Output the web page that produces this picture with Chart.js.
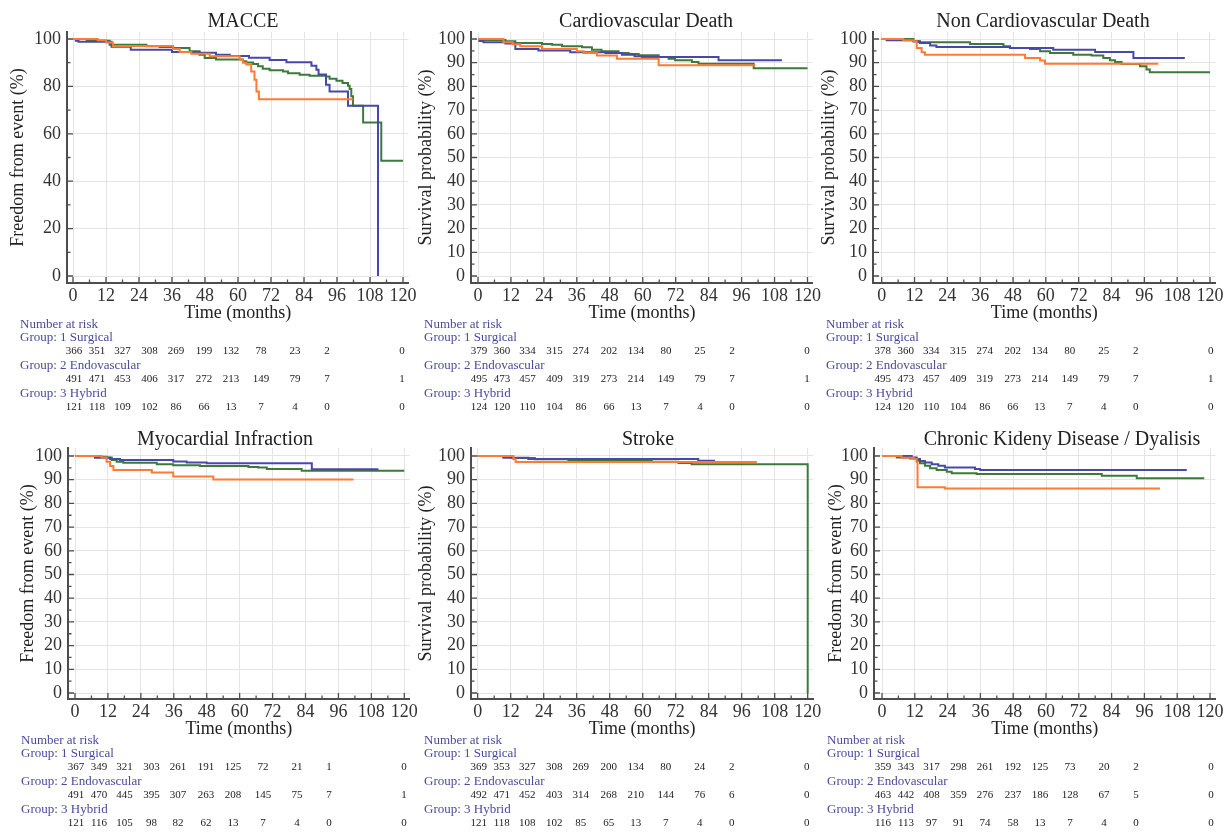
<!DOCTYPE html>
<html>
<head>
<meta charset="utf-8">
<title>Kaplan-Meier curves</title>
<script src="https://cdn.jsdelivr.net/npm/chart.js@4.4.1/dist/chart.umd.min.js"></script>
<style>
  body { margin: 0; width: 1230px; height: 832px; overflow: hidden; position: relative; background: #fff;
         font-family: "Liberation Serif", "DejaVu Serif", serif; }
  canvas { position: absolute; }
  .ttl { position: absolute; font-size: 20px; color: #222; white-space: nowrap; transform: translate(-50%, -50%); }
</style>
</head>
<body>
<script>
// ---- data ----
const xTickVals = [0, 12, 24, 36, 48, 60, 72, 84, 96, 108, 120];
const yTicksMacce = [0, 20, 40, 60, 80, 100];
const yTicksTen = [0, 10, 20, 30, 40, 50, 60, 70, 80, 90, 100];

const groupNames = ["Group: 1 Surgical", "Group: 2 Endovascular", "Group: 3 Hybrid"];
const panelTitles = ["MACCE", "Cardiovascular Death", "Non Cardiovascular Death",
                     "Myocardial Infraction", "Stroke", "Chronic Kideny Disease / Dyalisis"];
const yTitles = ["Freedom from event (%)", "Survival probability (%)", "Survival probability (%)",
                 "Freedom from event (%)", "Survival probability (%)", "Freedom from event (%)"];

// MACCE
const macceSurgT = [0, 1, 2, 14, 21, 36, 46, 52, 57, 64, 71.5, 77.6, 86.7, 88.5, 89.3, 92, 93.3, 100, 110.9];
const macceSurgS = [100, 99.3, 98.8, 96.7, 95.5, 94.5, 94.2, 93.4, 92.8, 92.1, 91.1, 90.2, 88.7, 87, 85, 80.7, 77.9, 71.8, 0];
const macceEndoT = [0, 5, 13.3, 26.7, 31.5, 36.4, 42.4, 46, 47.9, 52, 61.8, 63, 65.5, 67.3, 69, 71.5, 76.4, 78.2, 82.4, 86, 92, 93.3, 95.8, 98, 100, 100.6, 101.2, 101.8, 105.5, 112.1, 120];
const macceEndoS = [100, 99.3, 97.6, 96.9, 96.6, 96.2, 94.8, 93.4, 92, 91.3, 90.6, 90.1, 89.4, 88.5, 87.5, 86.8, 86.3, 85.6, 84.9, 84.5, 84.2, 83.2, 82.4, 81.4, 80.3, 78.9, 75.8, 71.8, 64.8, 48.6, 48.6];
const macceHybT = [0, 9, 12, 14.5, 36.4, 38.8, 43, 49.7, 60.6, 61.8, 63, 64.8, 66, 66.7, 67.6, 101.8];
const macceHybS = [100, 99.5, 98.5, 97, 95.8, 94.5, 93.8, 92.7, 91.3, 90, 89.2, 86.3, 82.8, 77.9, 74.6, 74.6];

// Cardiovascular death
const cvSurgT = [0, 0.5, 2, 10, 13.6, 22, 33.6, 46.4, 52.4, 57, 59.7, 87.6, 110.7];
const cvSurgS = [100, 99.2, 98.6, 98.1, 95.8, 95.2, 94.4, 94.1, 93.4, 92.7, 92.4, 91, 91];
const cvEndoT = [0, 2, 10, 13.6, 23.3, 27, 30.6, 37.9, 41.5, 45, 51.2, 54.9, 58.5, 65.8, 69.4, 71.8, 77.9, 80.3, 100.4, 120];
const cvEndoS = [100, 99.6, 99, 98.3, 97.9, 97.6, 96.9, 96.5, 95.5, 94.8, 94.1, 93.7, 93.1, 92.4, 91.7, 91, 90.3, 89.6, 87.7, 87.7];
const cvHybT = [0, 9.3, 12.5, 15.4, 23.3, 36, 38.5, 43.3, 50.6, 65.8, 101];
const cvHybS = [100, 98.6, 97.8, 96.9, 95.8, 94.8, 94.1, 93, 91.7, 88.9, 88.9];

// Non cardiovascular death
const ncvSurgT = [0, 1.8, 11.6, 14, 17.7, 20, 46.9, 62.7, 78, 92, 110.8];
const ncvSurgS = [100, 99.5, 99, 98.3, 97.3, 96.6, 96.2, 95.5, 94.5, 92, 92];
const ncvEndoT = [0, 11.6, 13.4, 32.3, 44.5, 46.9, 54.2, 57.9, 61.5, 70, 76.7, 81, 83.4, 85.3, 87.7, 94.4, 96.8, 98, 120];
const ncvEndoS = [100, 99, 98.6, 97.9, 96.9, 96.2, 95.8, 94.8, 94.1, 93.4, 93, 92, 91, 90.3, 89.5, 88.5, 87.1, 86, 86];
const ncvHybT = [0, 7.9, 11.6, 12.8, 14.6, 15.8, 52.4, 57.9, 59.7, 101.1];
const ncvHybS = [100, 99.5, 99, 96.2, 94.4, 93.4, 92, 90.9, 89.6, 89.6];

// Myocardial infarction
const miSurgT = [0, 7.3, 12.8, 16.4, 35.8, 40.7, 48, 86.3, 110.6];
const miSurgS = [100, 99.3, 98.7, 98.3, 97.7, 97.3, 96.9, 94.4, 94.4];
const miEndoT = [0, 9, 11.5, 13.4, 15.2, 17.6, 29.8, 35.8, 45.6, 63.2, 66.8, 69.9, 82.6, 120];
const miEndoS = [100, 99.7, 99.4, 98.3, 97.6, 97.2, 96.5, 96.1, 95.8, 95.4, 95.1, 94.5, 93.8, 93.8];
const miHybT = [0, 9.7, 11.5, 12.8, 14, 28, 35.8, 50.4, 101.5];
const miHybS = [100, 99.4, 97.6, 95.8, 94.1, 93, 91.3, 90.1, 90.1];

// Stroke
const strokeSurgT = [0, 9.3, 18.4, 80.2, 86.3];
const strokeSurgS = [100, 99.3, 98.7, 98, 98];
const strokeEndoT = [0, 12.4, 20.8, 33, 63.3, 73, 77.8, 120];
const strokeEndoS = [100, 99.2, 98.6, 98, 97.6, 97, 96.5, 0];
const strokeHybT = [0, 13, 13.8, 101.5];
const strokeHybS = [100, 98.6, 97.5, 97.5];

// Chronic kidney disease / dialysis
const ckdSurgT = [0, 10.9, 12.7, 13.9, 15.7, 18.2, 20.6, 23, 34, 35.9, 111.5];
const ckdSurgS = [100, 99.4, 98.7, 97.9, 97.3, 96.5, 95.9, 95.2, 94.5, 94.1, 94.1];
const ckdEndoT = [0, 5.4, 10.2, 12.7, 13.9, 15.7, 17.6, 20, 23.7, 25.5, 34.6, 80.4, 93.2, 117.9];
const ckdEndoS = [100, 99.4, 98.9, 98, 96.9, 95.9, 94.8, 94.1, 93.4, 92.7, 92.4, 91.7, 90.6, 90.6];
const ckdHybT = [0, 7.2, 11.5, 12.7, 13, 23, 101.7];
const ckdHybS = [100, 99.3, 98.7, 97.5, 86.8, 86.3, 86.3];

// Number at risk (at 0, 12, ..., 120 months)
const macceRiskSurg = [366, 351, 327, 308, 269, 199, 132, 78, 23, 2, 0];
const macceRiskEndo = [491, 471, 453, 406, 317, 272, 213, 149, 79, 7, 1];
const macceRiskHyb = [121, 118, 109, 102, 86, 66, 13, 7, 4, 0, 0];
const cvRiskSurg = [379, 360, 334, 315, 274, 202, 134, 80, 25, 2, 0];
const cvRiskEndo = [495, 473, 457, 409, 319, 273, 214, 149, 79, 7, 1];
const cvRiskHyb = [124, 120, 110, 104, 86, 66, 13, 7, 4, 0, 0];
const ncvRiskSurg = [378, 360, 334, 315, 274, 202, 134, 80, 25, 2, 0];
const ncvRiskEndo = [495, 473, 457, 409, 319, 273, 214, 149, 79, 7, 1];
const ncvRiskHyb = [124, 120, 110, 104, 86, 66, 13, 7, 4, 0, 0];
const miRiskSurg = [367, 349, 321, 303, 261, 191, 125, 72, 21, 1, 0];
const miRiskEndo = [491, 470, 445, 395, 307, 263, 208, 145, 75, 7, 1];
const miRiskHyb = [121, 116, 105, 98, 82, 62, 13, 7, 4, 0, 0];
const strokeRiskSurg = [369, 353, 327, 308, 269, 200, 134, 80, 24, 2, 0];
const strokeRiskEndo = [492, 471, 452, 403, 314, 268, 210, 144, 76, 6, 0];
const strokeRiskHyb = [121, 118, 108, 102, 85, 65, 13, 7, 4, 0, 0];
const ckdRiskSurg = [359, 343, 317, 298, 261, 192, 125, 73, 20, 2, 0];
const ckdRiskEndo = [463, 442, 408, 359, 276, 237, 186, 128, 67, 5, 0];
const ckdRiskHyb = [116, 113, 97, 91, 74, 58, 13, 7, 4, 0, 0];

// ---- styles / layout ----
const lineColors = ["#4848a8", "#3b7a3b", "#ff7b35"];
const labelBlue = "#4a4a9c";
const gridColor = "#e4e4e4";
const axisColor = "#4d4d4d";
const riskCols = [1, 24, 49.5, 76.5, 103, 131, 158, 188, 222, 254, 329]; // px from x=0 tick

const rows = [
  { top: 0, height: 418, caTop: 32, caBot: 283, y0: 276, y100: 39, titleY: 20 },
  { top: 418, height: 414, caTop: 448, caBot: 699, y0: 693, y100: 456, titleY: 438 }
];
const geo = [
  { row: 0, spine: 67, x0: 73, x120: 403, yw: 60, titleX: 243 },
  { row: 0, spine: 471, x0: 478, x120: 807.5, yw: 56, titleX: 646 },
  { row: 0, spine: 873, x0: 881.7, x120: 1210, yw: 55, titleX: 1043 },
  { row: 1, spine: 68, x0: 75, x120: 404.3, yw: 51, titleX: 225 },
  { row: 1, spine: 471, x0: 477.7, x120: 807.7, yw: 56, titleX: 648 },
  { row: 1, spine: 874, x0: 882, x120: 1210, yw: 49, titleX: 1062 }
];

const curves = [
  [[macceSurgT, macceSurgS], [macceEndoT, macceEndoS], [macceHybT, macceHybS]],
  [[cvSurgT, cvSurgS], [cvEndoT, cvEndoS], [cvHybT, cvHybS]],
  [[ncvSurgT, ncvSurgS], [ncvEndoT, ncvEndoS], [ncvHybT, ncvHybS]],
  [[miSurgT, miSurgS], [miEndoT, miEndoS], [miHybT, miHybS]],
  [[strokeSurgT, strokeSurgS], [strokeEndoT, strokeEndoS], [strokeHybT, strokeHybS]],
  [[ckdSurgT, ckdSurgS], [ckdEndoT, ckdEndoS], [ckdHybT, ckdHybS]]
];
const risks = [
  [macceRiskSurg, macceRiskEndo, macceRiskHyb],
  [cvRiskSurg, cvRiskEndo, cvRiskHyb],
  [ncvRiskSurg, ncvRiskEndo, ncvRiskHyb],
  [miRiskSurg, miRiskEndo, miRiskHyb],
  [strokeRiskSurg, strokeRiskEndo, strokeRiskHyb],
  [ckdRiskSurg, ckdRiskEndo, ckdRiskHyb]
];

Chart.defaults.font.family = '"Liberation Serif", "DejaVu Serif", serif';

// small tick marks drawn inside the axes
const innerTicks = {
  id: "innerTicks",
  afterDatasetsDraw(chart) {
    const ctx = chart.ctx, xs = chart.scales.x, ys = chart.scales.y, ca = chart.chartArea;
    ctx.save();
    ctx.strokeStyle = axisColor;
    ctx.lineWidth = 1.3;
    ctx.beginPath();
    for (let v = 0; v <= 120; v += 6) {
      const px = xs.getPixelForValue(v);
      const len = v % 12 === 0 ? 6 : 3.5;
      ctx.moveTo(px, ca.bottom);
      ctx.lineTo(px, ca.bottom - len);
    }
    const yt = ys.ticks.map(t => t.value);
    const step = yt[1] - yt[0];
    yt.forEach((v, i) => {
      let py = ys.getPixelForValue(v);
      ctx.moveTo(ca.left, py);
      ctx.lineTo(ca.left + 6, py);
      if (i < yt.length - 1) {
        py = ys.getPixelForValue(v + step / 2);
        ctx.moveTo(ca.left, py);
        ctx.lineTo(ca.left + 3.5, py);
      }
    });
    ctx.stroke();
    ctx.restore();
  }
};

function riskTable(riskRows) {
  return {
    id: "riskTable",
    afterDraw(chart) {
      const ctx = chart.ctx, ca = chart.chartArea;
      const x0 = chart.scales.x.getPixelForValue(0);
      const lx = ca.left - 47;
      ctx.save();
      ctx.textBaseline = "middle";
      ctx.font = '13px "Liberation Serif"';
      ctx.fillStyle = labelBlue;
      ctx.textAlign = "left";
      ctx.fillText("Number at risk", lx, ca.bottom + 42);
      groupNames.forEach((g, k) => {
        ctx.font = '13px "Liberation Serif"';
        ctx.fillStyle = labelBlue;
        ctx.textAlign = "left";
        ctx.fillText(g, lx, ca.bottom + 55 + k * 28);
        ctx.font = '11px "Liberation Serif"';
        ctx.fillStyle = "#222";
        ctx.textAlign = "center";
        riskRows[k].forEach((n, i) => ctx.fillText(String(n), x0 + riskCols[i], ca.bottom + 68 + k * 28));
      });
      ctx.restore();
    }
  };
}

geo.forEach((g, p) => {
  const r = rows[g.row];
  const ppx = (g.x120 - g.x0) / 120;
  const xmin = -(g.x0 - g.spine) / ppx;
  const xmax = 122;
  const right = g.x0 + xmax * ppx;
  const ppy = (r.y0 - r.y100) / 100;
  const ymin = -(r.caBot - r.y0) / ppy;
  const ymax = 100 + (r.y100 - r.caTop) / ppy;

  const left = g.spine - g.yw - 7;
  const width = Math.round(right - left + 15);
  const padR = width - (right - left);

  const cv = document.createElement("canvas");
  cv.width = width;
  cv.height = r.height;
  cv.style.left = left + "px";
  cv.style.top = r.top + "px";
  cv.style.width = width + "px";
  cv.style.height = r.height + "px";
  document.body.appendChild(cv);

  const t = document.createElement("div");
  t.className = "ttl";
  t.textContent = panelTitles[p];
  t.style.left = g.titleX + "px";
  t.style.top = r.titleY + "px";
  document.body.appendChild(t);

  // hybrid drawn on top, surgical at the bottom
  const order = [2, 0, 1];
  const datasets = order.map(k => ({
    label: groupNames[k],
    data: curves[p][k][0].map((x, i) => ({ x: x, y: curves[p][k][1][i] })),
    borderColor: lineColors[k],
    borderWidth: 2,
    pointRadius: 0,
    fill: false,
    stepped: "before"
  }));

  new Chart(cv, {
    type: "line",
    data: { datasets: datasets },
    options: {
      responsive: false,
      animation: false,
      devicePixelRatio: 1,
      layout: { padding: { left: 7, right: padR, top: r.caTop - r.top, bottom: r.height - (r.caBot - r.top) - 41 } },
      plugins: { legend: { display: false }, tooltip: { enabled: false } },
      scales: {
        x: {
          type: "linear", min: xmin, max: xmax,
          afterBuildTicks: s => { s.ticks = xTickVals.map(v => ({ value: v })); },
          afterFit: s => { s.height = 41; },
          grid: { color: gridColor, drawTicks: false, tickLength: 0 },
          border: { color: axisColor, width: 2 },
          ticks: { color: "#333", font: { size: 18 }, padding: 2, maxRotation: 0, autoSkip: false },
          title: { display: true, text: "Time (months)", color: "#222", font: { size: 18 }, padding: 0 }
        },
        y: {
          type: "linear", min: ymin, max: ymax,
          afterBuildTicks: s => { s.ticks = (p === 0 ? yTicksMacce : yTicksTen).map(v => ({ value: v })); },
          afterFit: s => { s.width = g.yw; },
          grid: { color: gridColor, drawTicks: false, tickLength: 0 },
          border: { color: axisColor, width: 2 },
          ticks: { color: "#333", font: { size: 18 }, padding: 6, autoSkip: false },
          title: { display: true, text: yTitles[p], color: "#222", font: { size: 18 }, padding: 0 }
        }
      }
    },
    plugins: [innerTicks, riskTable(risks[p])]
  });
});
</script>
</body>
</html>
